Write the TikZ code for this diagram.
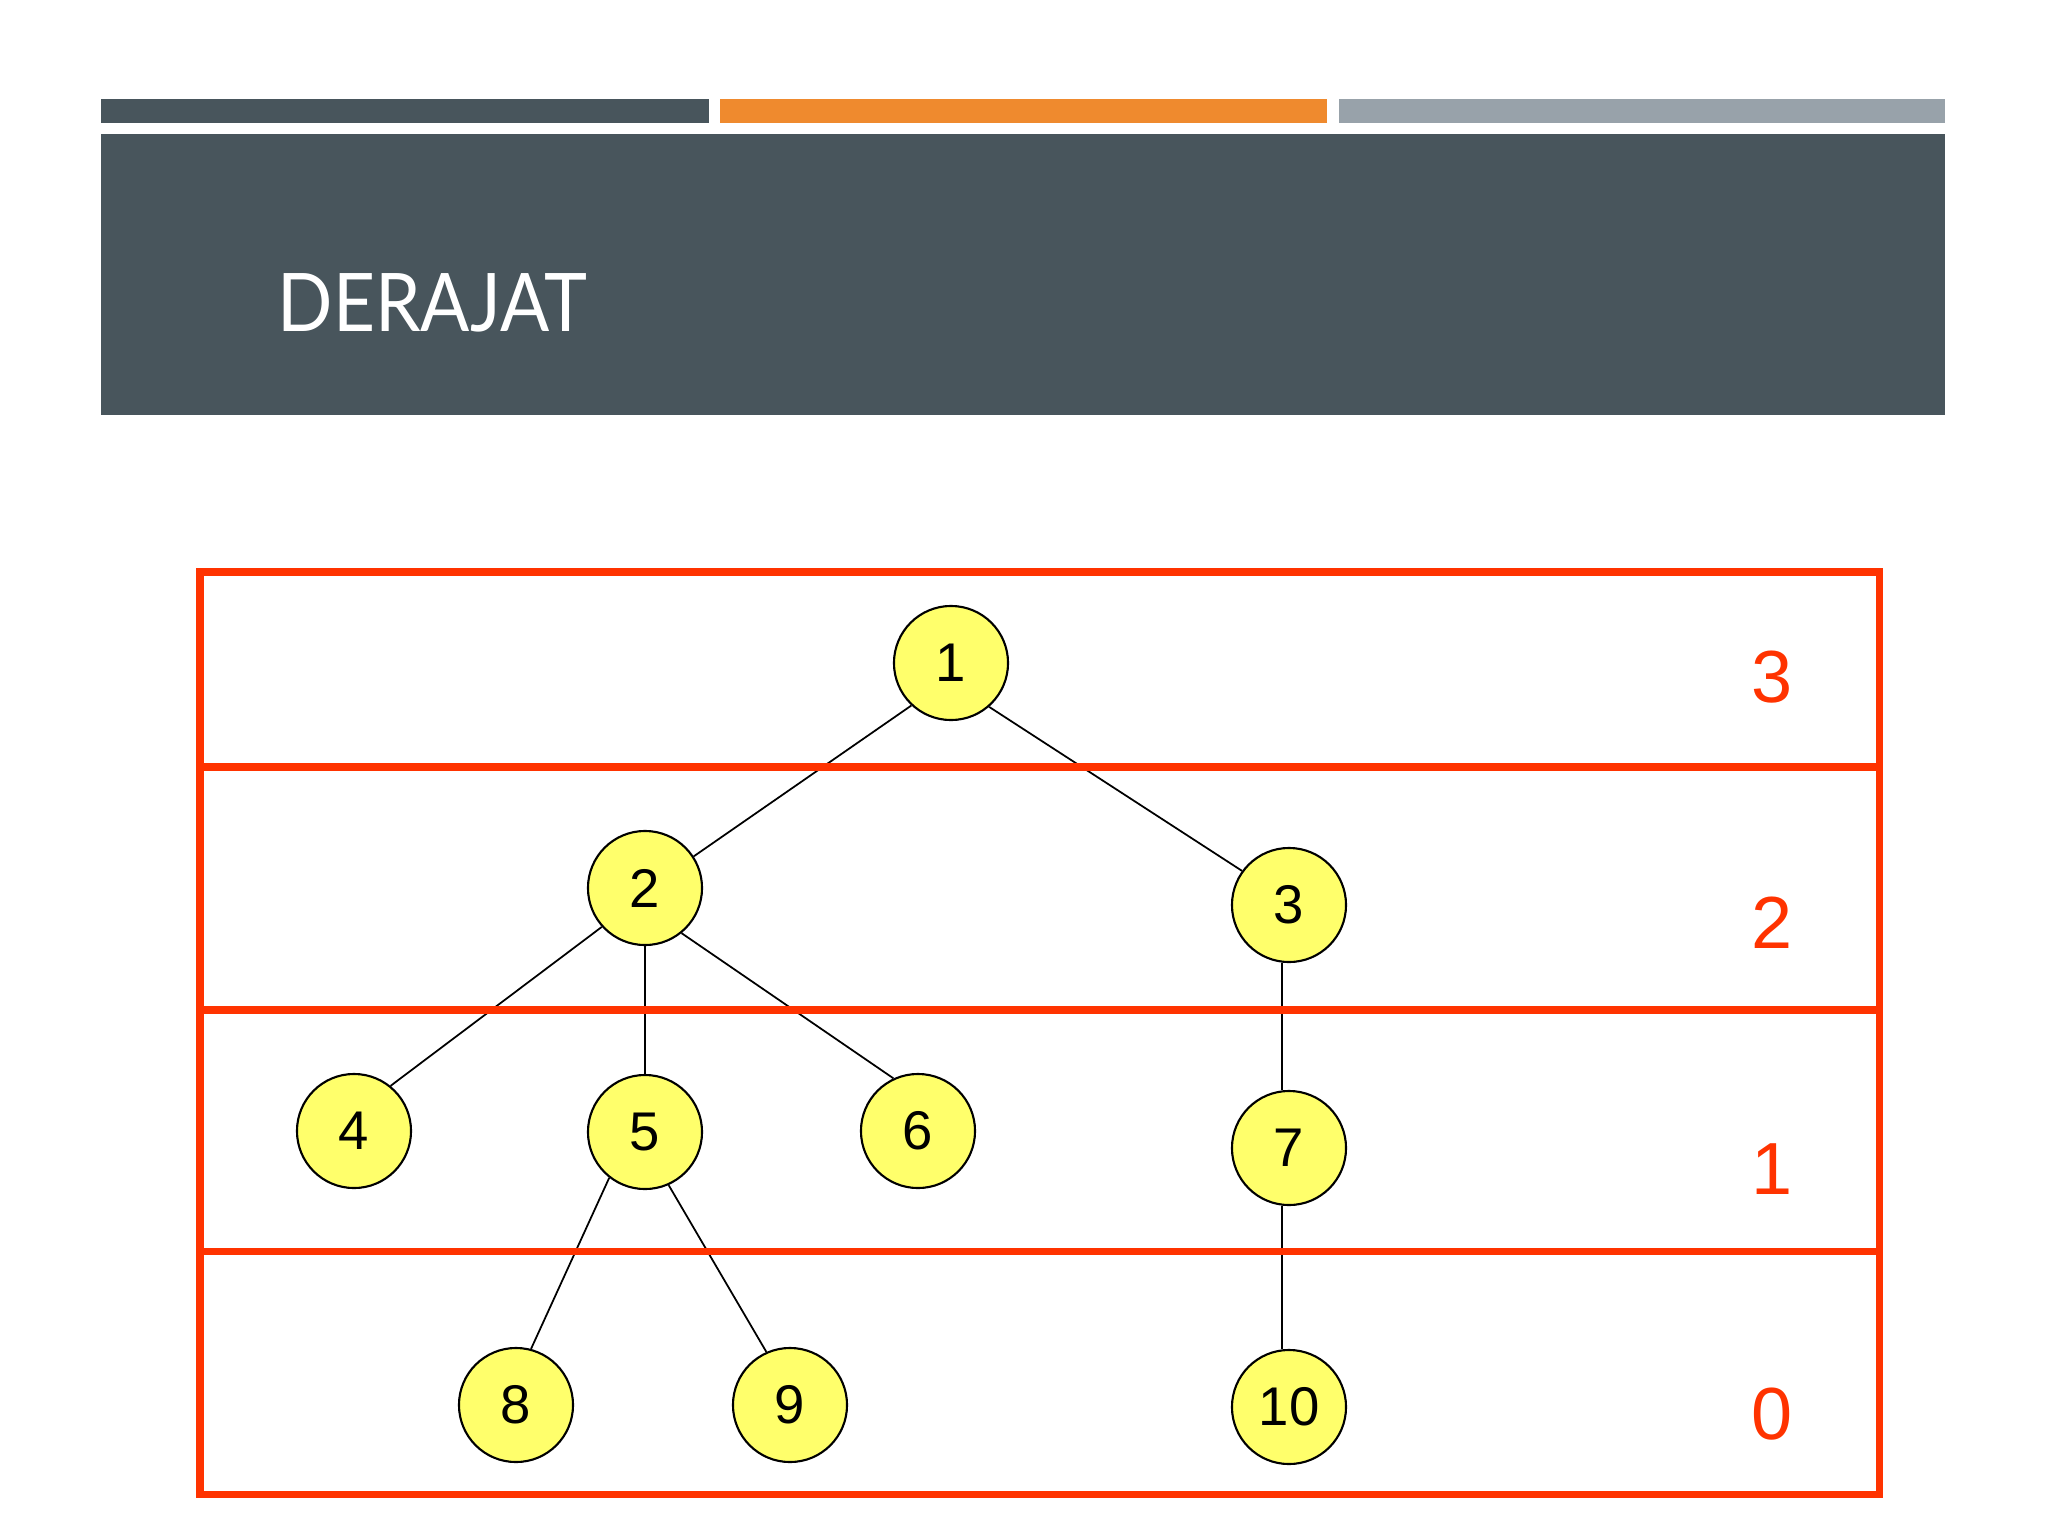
\documentclass[tikz,border=0pt]{standalone}
\usepackage{fontspec}
\setmainfont{Liberation Sans}
\newfontfamily\titlefont{Lato}
\definecolor{darkc}{HTML}{48555C}
\definecolor{orangec}{HTML}{EF8A2E}
\definecolor{grayc}{HTML}{98A2AA}
\definecolor{redc}{HTML}{FF3300}
\definecolor{vyellow}{HTML}{FFFF6B}
\begin{document}
\begin{tikzpicture}[x=0.01cm,y=-0.01cm,
  vtx/.style={circle,draw=black,line width=0.6pt,fill=vyellow,minimum size=1.14cm,inner sep=0pt,font=\fontsize{15.5}{15.5}\selectfont},
  edge/.style={draw=black,line width=0.5pt},
  redline/.style={draw=redc,line width=2pt},
  lvl/.style={text=redc,font=\fontsize{21}{21}\selectfont,inner sep=0pt}]
\useasboundingbox (0,0) rectangle (2048,1536);
% top bars
\fill[darkc] (101,99) rectangle (709,123);
\fill[orangec] (720,99) rectangle (1327,123);
\fill[grayc] (1339,99) rectangle (1945,123);
% header
\fill[darkc] (101,134) rectangle (1945,415);
\node[anchor=base west,text=white,font=\titlefont\fontsize{23}{23}\selectfont,inner sep=0pt,xscale=0.9] (title) at (277,331) {DERAJAT};
% tree nodes
\node[vtx] (n1) at (951,663) {1};
\node[vtx] (n2) at (645,888) {2};
\node[vtx] (n3) at (1289,905) {3};
\node[vtx] (n4) at (354,1131) {4};
\node[vtx] (n5) at (645,1132) {5};
\node[vtx] (n6) at (918,1131) {6};
\node[vtx] (n7) at (1289,1148) {7};
\node[vtx] (n8) at (516,1405) {8};
\node[vtx] (n9) at (790,1405) {9};
\node[vtx] (n10) at (1289,1407) {10};
% edges
\draw[edge] (n1.227) -- (n2.33);
\draw[edge] (n1.311) -- (n3.144);
\draw[edge] (n2.222) -- (n4.51);
\draw[edge] (n2.south) -- (n5.north);
\draw[edge] (n2.309) -- (n6.115);
\draw[edge] ([xshift=-0.07cm]n3.south) -- ([xshift=-0.07cm]n7.north);
\draw[edge] (n5.232) -- (n8.75);
\draw[edge] (n5.294) -- (n9.114);
\draw[edge] ([xshift=-0.07cm]n7.south) -- ([xshift=-0.07cm]n10.north);
% red level box
\draw[redline] (200,572) rectangle (1879,1494);
\draw[redline] (200,767) -- (1879,767);
\draw[redline] (200,1010) -- (1879,1010);
\draw[redline] (200,1251) -- (1879,1251);
% level labels
\node[lvl] (l3) at (1772,677) {3};
\node[lvl] (l2) at (1772,923) {2};
\node[lvl] (l1) at (1772,1169) {1};
\node[lvl] (l0) at (1772,1414) {0};
\end{tikzpicture}
\end{document}
